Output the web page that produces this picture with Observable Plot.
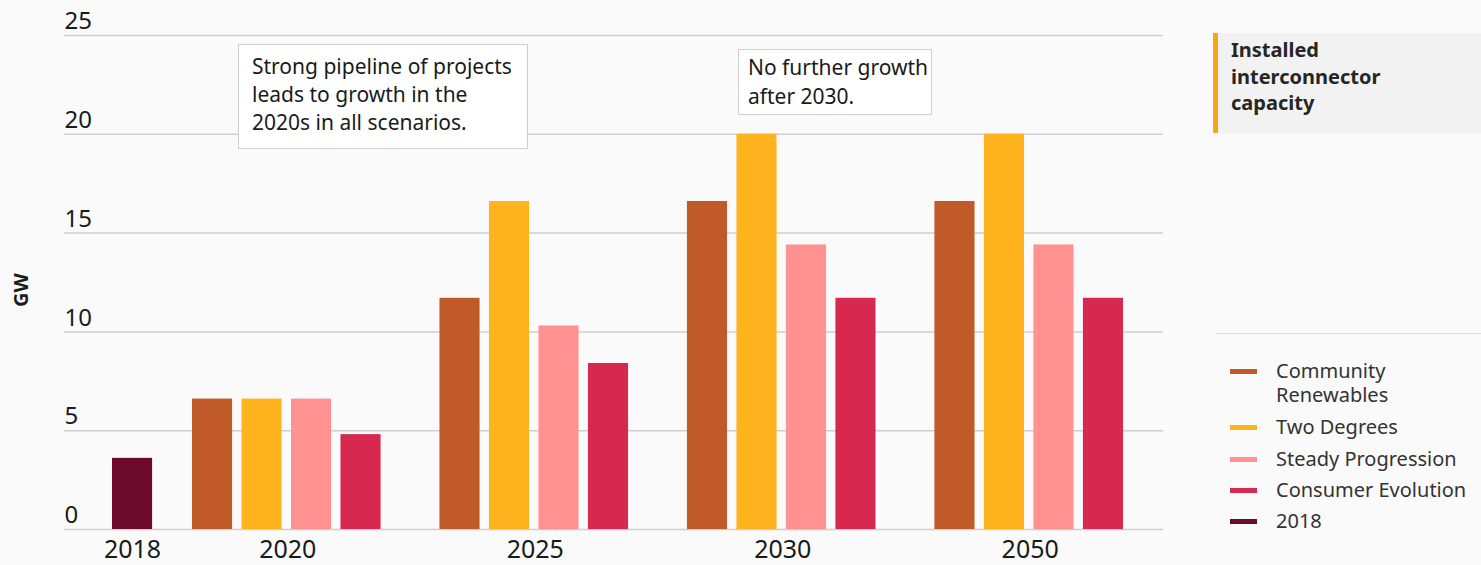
<!DOCTYPE html>
<html>
<head>
<meta charset="utf-8">
<script src="https://cdn.jsdelivr.net/npm/d3@7"></script>
<script src="https://cdn.jsdelivr.net/npm/@observablehq/plot@0.6"></script>
<style>
  html, body { margin: 0; padding: 0; background: #fafafa; }
  body { width: 1481px; height: 565px; overflow: hidden; font-family: "Noto Sans", sans-serif; color: #222; }
  #wrap { position: relative; width: 1481px; height: 565px; }
  #chart { position: absolute; left: 0; top: 0; }
  .note { position: absolute; background: #fff; border: 1.5px solid #cfcfcf; box-sizing: border-box; font-size: 21px; line-height: 28px; color: #1a1a1a; }
  #gw { position: absolute; left: 20px; top: 290px; transform: translate(-50%, -50%) rotate(-90deg); font-weight: 700; font-size: 20px; color: #1a1a1a; }
  #titlebox { position: absolute; left: 1213px; top: 33px; width: 268px; height: 100px; background: #f2f2f2; border-left: 5px solid #f9a51a; box-sizing: border-box; padding: 4px 0 0 13px; font-weight: 700; font-size: 20px; line-height: 26.5px; color: #262626; }
  #sep { position: absolute; left: 1216px; top: 333px; width: 265px; height: 0; border-top: 1.5px solid #dcdcdc; }
  .leg { position: absolute; left: 1230px; font-size: 20px; line-height: 24px; color: #333; }
  .leg .sw { position: absolute; left: 0; top: 10px; width: 27px; height: 5px; }
  .leg .lb { position: absolute; left: 46px; top: 0; white-space: nowrap; }
</style>
</head>
<body>
<div id="wrap">
  <div id="chart"></div>
  <div id="gw">GW</div>
  <div class="note" style="left:238px; top:44px; width:290px; height:105px; padding:7px 0 0 13px;">Strong pipeline of projects<br>leads to growth in the<br>2020s in all scenarios.</div>
  <div class="note" style="left:738px; top:49px; width:194px; height:66px; padding:3px 0 0 9px; line-height:29px;">No further growth<br>after 2030.</div>
  <div id="titlebox">Installed<br>interconnector<br>capacity</div>
  <div id="sep"></div>
  <div id="legend"></div>
</div>
<script>
// ---- data ----
const groups = ["2018", "2020", "2025", "2030", "2050"];
const scenarioYears = ["2020", "2025", "2030", "2050"];
const scenarios = ["Community Renewables", "Two Degrees", "Steady Progression", "Consumer Evolution"];
const communityRenewables = [6.6, 11.7, 16.6, 16.6];
const twoDegrees = [6.6, 16.6, 20.0, 20.0];
const steadyProgression = [6.6, 10.3, 14.4, 14.4];
const consumerEvolution = [4.8, 8.4, 11.7, 11.7];
const value2018 = [3.6];
const yTicks = [0, 5, 10, 15, 20, 25];
const colors = ["#c05a28", "#ffb41f", "#ff9191", "#d7284f"];
const color2018 = "#6b0a2a";

// ---- build table ----
const seriesValues = [communityRenewables, twoDegrees, steadyProgression, consumerEvolution];
const rows = [];
scenarioYears.forEach((yr, i) => {
  scenarios.forEach((s, j) => {
    rows.push({year: yr, scenario: s, key: yr + "|" + s, value: seriesValues[j][i]});
  });
});
const rows2018 = [{year: "2018", scenario: "2018", key: "2018", value: value2018[0]}];

// slot domain: 2018, spacer, then groups of 4 with spacers
const domain = ["2018", "gap-2018"];
scenarioYears.forEach((yr, i) => {
  scenarios.forEach(s => domain.push(yr + "|" + s));
  if (i < scenarioYears.length - 1) domain.push("gap-" + yr);
});

const halfStep = 24.75;
const labelRows = [
  {label: "2018", key: "2018", shift: 19},
  ...scenarioYears.map(yr => ({label: yr, key: yr + "|Two Degrees", shift: halfStep + 1}))
];

const chart = Plot.plot({
  width: 1200,
  height: 565,
  marginLeft: 64,
  marginRight: 37,
  marginTop: 35,
  marginBottom: 36,
  style: {fontFamily: "Noto Sans, sans-serif", background: "transparent", overflow: "visible"},
  x: {type: "band", domain, range: [93, 1123], paddingInner: 0.19, paddingOuter: 0, round: false, axis: null},
  y: {domain: [0, 25], axis: null},
  color: {domain: [...scenarios, "2018"], range: [...colors, color2018]},
  marks: [
    Plot.ruleY(yTicks, {stroke: "#cfcfcf", strokeWidth: 1.5}),
    Plot.text(yTicks, {y: d => d, text: d => String(d), frameAnchor: "left", textAnchor: "start", dy: -14, fontSize: 24, fill: "#1a1a1a"}),
    Plot.barY(rows, {x: "key", y: "value", fill: "scenario"}),
    Plot.barY(rows2018, {x: "key", y: "value", fill: "scenario", dx: 19}),
    ...labelRows.map(r => Plot.text([r], {x: "key", y: () => 0, text: "label", dx: r.shift, dy: 20, fontSize: 25, fill: "#1a1a1a"}))
  ]
});
document.getElementById("chart").appendChild(chart);

// ---- legend ----
const legendItems = [
  {label: "Community<br>Renewables", color: colors[0], top: 359},
  {label: "Two Degrees", color: colors[1], top: 415},
  {label: "Steady Progression", color: colors[2], top: 447},
  {label: "Consumer Evolution", color: colors[3], top: 478},
  {label: "2018", color: color2018, top: 509}
];
const leg = document.getElementById("legend");
legendItems.forEach(it => {
  const d = document.createElement("div");
  d.className = "leg";
  d.style.top = it.top + "px";
  d.innerHTML = `<div class="sw" style="background:${it.color}"></div><div class="lb">${it.label}</div>`;
  leg.appendChild(d);
});
</script>
</body>
</html>
